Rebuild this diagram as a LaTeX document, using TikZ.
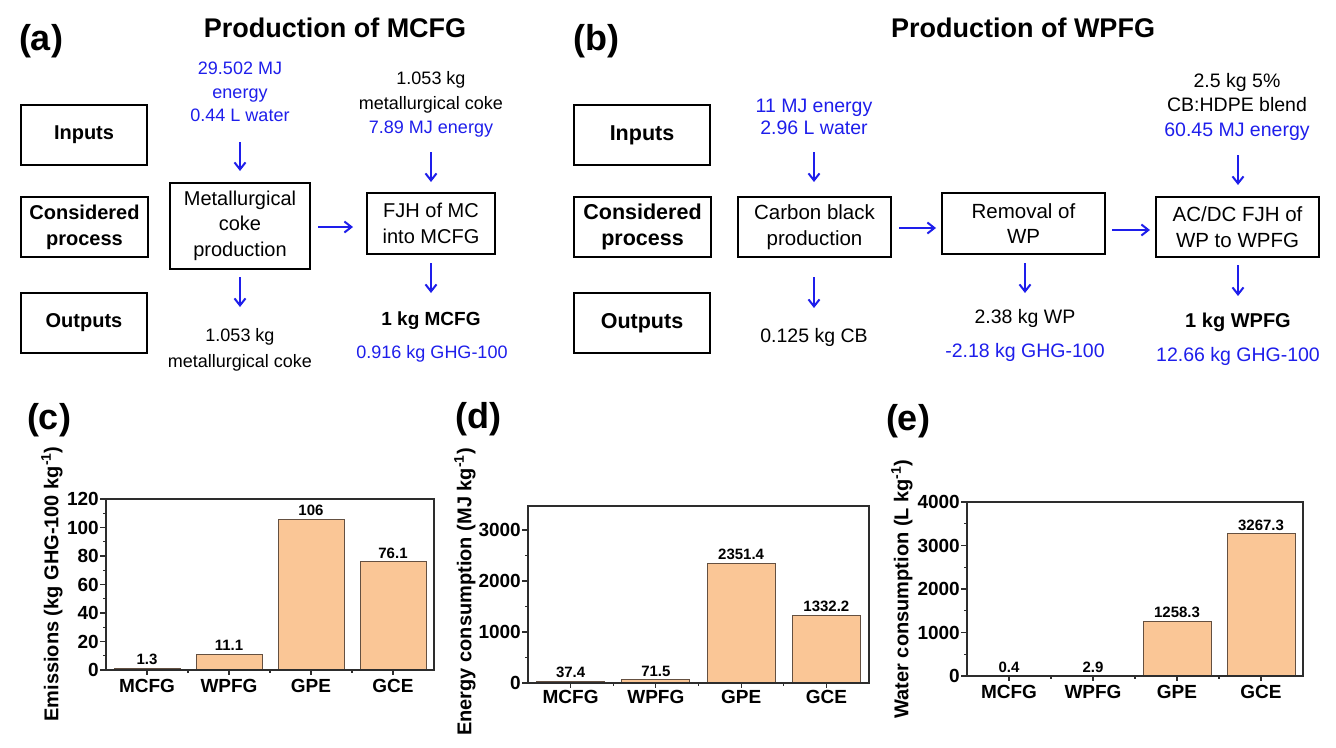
\documentclass[tikz,border=0pt]{standalone}
\usepackage{fontspec}
\setmainfont{Liberation Sans}
\usetikzlibrary{arrows.meta}
\definecolor{fblue}{RGB}{30,30,235}
\definecolor{barfill}{RGB}{250,198,150}
\definecolor{baredge}{RGB}{100,80,65}
\definecolor{axcol}{RGB}{45,45,45}
\begin{document}
\begin{tikzpicture}[x=1pt,y=-1pt,
  box/.style={draw, line width=2pt, align=center, inner sep=0pt},
  hdr/.style={font=\fontsize{20}{26}\selectfont\bfseries},
  hdrb/.style={font=\fontsize{21.5}{26}\selectfont\bfseries},
  ptxt/.style={font=\fontsize{20}{25.5}\selectfont},
  ptxtb/.style={font=\fontsize{20.5}{25.5}\selectfont},
  vtxt/.style={font=\fontsize{18}{24.5}\selectfont, align=center, inner sep=0pt, anchor=base},
  vtxtb/.style={font=\fontsize{19.5}{24.5}\selectfont, align=center, inner sep=0pt, anchor=base},
  plab/.style={font=\fontsize{36}{40}\selectfont\bfseries, inner sep=0pt, anchor=base},
  ttl/.style={font=\fontsize{27}{30}\selectfont\bfseries, inner sep=0pt, anchor=base},
  arr/.style={draw=fblue, line width=2pt, -{Straight Barb[length=7pt,width=11pt,line width=2pt]}},
  bar/.style={fill=barfill, draw=baredge, line width=0.9pt},
  frame/.style={draw=axcol, line width=1.3pt},
  tk/.style={draw=axcol, line width=1.1pt},
  tl/.style={font=\fontsize{19}{22}\selectfont\bfseries, inner sep=0pt, anchor=east},
  xl/.style={font=\fontsize{19}{22}\selectfont\bfseries, inner sep=0pt, anchor=north},
  val/.style={font=\fontsize{15}{18}\selectfont\bfseries, inner sep=0pt, anchor=south},
  yl/.style={font=\fontsize{20}{24}\selectfont\bfseries, inner sep=0pt, rotate=90}
]
\useasboundingbox (0,0) rectangle (1336,747);
\fill[white] (0,0) rectangle (1336,747);

% ================= (a) =================
\node[plab] (la) at (41,50) {(a)};
\node[ttl] (ta) at (335,37.5) {Production of MCFG};

\node[box, hdr, minimum width=126pt, minimum height=60pt] (inA) at (84,135) {Inputs};
\node[box, hdr, minimum width=127pt, minimum height=60pt] (cpA) at (84.5,227) {Considered\\process};
\node[box, hdr, minimum width=126pt, minimum height=60pt] (outA) at (84,323) {Outputs};

\node[vtxt, text=fblue, font=\fontsize{18}{23.5}\selectfont] (ia1) at (240,121.5) {29.502 MJ\\energy\\0.44 L water};
\node[box, ptxt, minimum width=140pt, minimum height=86pt] (mc) at (240,225.5) {Metallurgical\\coke\\production};
\node[vtxt, font=\fontsize{18}{26}\selectfont] (oa1) at (240,367.5) {1.053 kg\\metallurgical coke};

\node[vtxt] (ia2) at (431,133.5) {1.053 kg\\metallurgical coke\\{\color{fblue}7.89 MJ energy}};
\node[box, ptxt, minimum width=128pt, minimum height=61pt] (fjh) at (431,223.5) {FJH of MC\\into MCFG};
\node[vtxt, font=\fontsize{19}{24}\selectfont\bfseries] (oa2) at (431,325.5) {1 kg MCFG};
\node[vtxt, text=fblue] (oa3) at (432,358.5) {0.916 kg GHG-100};

\coordinate (a1s) at (240,142); \coordinate (a1e) at (240,171);
\coordinate (a2s) at (431,152); \coordinate (a2e) at (431,182);
\coordinate (a3s) at (318,227); \coordinate (a3e) at (353,227);
\coordinate (a4s) at (240,277); \coordinate (a4e) at (240,307);
\coordinate (a5s) at (431,263); \coordinate (a5e) at (431,293);
\draw[arr] (a1s) -- (a1e);
\draw[arr] (a2s) -- (a2e);
\draw[arr] (a3s) -- (a3e);
\draw[arr] (a4s) -- (a4e);
\draw[arr] (a5s) -- (a5e);

% ================= (b) =================
\node[plab] (lb) at (596,50) {(b)};
\node[ttl] (tb) at (1023,37.5) {Production of WPFG};

\node[box, hdrb, minimum width=136pt, minimum height=60pt] (inB) at (642,135) {Inputs};
\node[box, hdrb, minimum width=137pt, minimum height=60pt] (cpB) at (642.5,227) {Considered\\process};
\node[box, hdrb, minimum width=136pt, minimum height=60pt] (outB) at (642,323) {Outputs};

\node[vtxtb, text=fblue, font=\fontsize{19.5}{22}\selectfont] (ib1) at (814,134) {11 MJ energy\\2.96 L water};
\node[box, ptxtb, minimum width=153pt, minimum height=60pt] (cb) at (814.5,227) {Carbon black\\production};
\node[vtxtb] (ob1) at (814,342) {0.125 kg CB};

\node[box, ptxtb, minimum width=163pt, minimum height=61pt] (rem) at (1023.5,223.5) {Removal of\\WP};
\node[vtxtb] (ob2) at (1025,323) {2.38 kg WP};
\node[vtxtb, text=fblue] (ob3) at (1025,357) {-2.18 kg GHG-100};

\node[vtxtb] (ib2) at (1237,136) {2.5 kg 5\%\\CB:HDPE blend\\{\color{fblue}60.45 MJ energy}};
\node[box, ptxtb, minimum width=163pt, minimum height=60pt] (acdc) at (1237.5,227) {AC/DC FJH of\\WP to WPFG};
\node[vtxtb, font=\fontsize{20}{24}\selectfont\bfseries] (ob4) at (1238,327) {1 kg WPFG};
\node[vtxtb, text=fblue] (ob5) at (1238,361) {12.66 kg GHG-100};

\coordinate (b1s) at (814,152); \coordinate (b1e) at (814,182);
\coordinate (b2s) at (899,228); \coordinate (b2e) at (936,228);
\coordinate (b3s) at (1112,230); \coordinate (b3e) at (1150,230);
\coordinate (b4s) at (1238,155); \coordinate (b4e) at (1238,185);
\coordinate (b5s) at (814,277); \coordinate (b5e) at (814,308);
\coordinate (b6s) at (1025,263); \coordinate (b6e) at (1025,293);
\coordinate (b7s) at (1238,265); \coordinate (b7e) at (1238,296);
\draw[arr] (b1s) -- (b1e);
\draw[arr] (b2s) -- (b2e);
\draw[arr] (b3s) -- (b3e);
\draw[arr] (b4s) -- (b4e);
\draw[arr] (b5s) -- (b5e);
\draw[arr] (b6s) -- (b6e);
\draw[arr] (b7s) -- (b7e);

% ================= (c) =================
\node[plab] (lc) at (49,429) {(c)};
\node[yl] (ylc) at (52,584) {Emissions (kg GHG-100 kg\textsuperscript{-1})};
\foreach \i/\v in {1/1.3, 2/11.1, 3/106, 4/76.1} {
  \pgfmathsetmacro{\xc}{106+(\i-0.5)*82}
  \pgfmathsetmacro{\yt}{670-\v*1.425}
  \draw[bar] (\xc-33,670) rectangle (\xc+33,\yt);
  \node[val] (cv\i) at (\xc,\yt-3) {\v};
}
\foreach \i/\n in {1/MCFG,2/WPFG,3/GPE,4/GCE} {
  \node[xl] (cx\i) at ({106+(\i-0.5)*82},679) {\n};
  \draw[tk] ({106+(\i-0.5)*82},670) -- ++(0,5);
}
\foreach \i in {1,2,3} \draw[tk] ({106+\i*82},670) -- ++(0,3);
\foreach \v in {0,20,...,120} {
  \draw[tk] (106,{670-\v*1.425}) -- ++(-6,0);
  \node[tl] (cy\v) at (99,{670-\v*1.425}) {\v};
}
\foreach \v in {10,30,...,110} \draw[tk] (106,{670-\v*1.425}) -- ++(-3.5,0);
\draw[frame] (106,499) rectangle (434,670);

% ================= (d) =================
\node[plab] (ld) at (478,428) {(d)};
\node[yl] (yld) at (465,592) {Energy consumption (MJ kg\textsuperscript{-1})};
\foreach \i/\v in {1/37.4, 2/71.5, 3/2351.4, 4/1332.2} {
  \pgfmathsetmacro{\xc}{528+(\i-0.5)*85.25}
  \pgfmathsetmacro{\yt}{683-\v*0.051}
  \draw[bar] (\xc-34,683) rectangle (\xc+34,\yt);
  \node[val] (dv\i) at (\xc,\yt-3) {\v};
}
\foreach \i/\n in {1/MCFG,2/WPFG,3/GPE,4/GCE} {
  \node[xl] (dx\i) at ({528+(\i-0.5)*85.25},690) {\n};
  \draw[tk] ({528+(\i-0.5)*85.25},683) -- ++(0,5);
}
\foreach \i in {1,2,3} \draw[tk] ({528+\i*85.25},683) -- ++(0,3);
\foreach \v in {0,1000,2000,3000} {
  \draw[tk] (528,{683-\v*0.051}) -- ++(-6,0);
  \node[tl] (dy\v) at (521,{683-\v*0.051}) {\v};
}
\foreach \v in {500,1500,2500} \draw[tk] (528,{683-\v*0.051}) -- ++(-3.5,0);
\draw[frame] (528,506) rectangle (869,683);

% ================= (e) =================
\node[plab] (le) at (908,430) {(e)};
\node[yl] (yle) at (902,589) {Water consumption (L kg\textsuperscript{-1})};
\foreach \i/\v in {1/0.4, 2/2.9, 3/1258.3, 4/3267.3} {
  \pgfmathsetmacro{\xc}{967+(\i-0.5)*84}
  \pgfmathsetmacro{\yt}{676-\v*0.0435}
  \draw[bar] (\xc-34,676) rectangle (\xc+34,\yt);
  \node[val] (ev\i) at (\xc,\yt-3) {\v};
}
\foreach \i/\n in {1/MCFG,2/WPFG,3/GPE,4/GCE} {
  \node[xl] (ex\i) at ({967+(\i-0.5)*84},685) {\n};
  \draw[tk] ({967+(\i-0.5)*84},676) -- ++(0,5);
}
\foreach \i in {1,2,3} \draw[tk] ({967+\i*84},676) -- ++(0,3);
\foreach \v in {0,1000,2000,3000,4000} {
  \draw[tk] (967,{676-\v*0.0435}) -- ++(-6,0);
  \node[tl] (ey\v) at (960,{676-\v*0.0435}) {\v};
}
\foreach \v in {500,1500,2500,3500} \draw[tk] (967,{676-\v*0.0435}) -- ++(-3.5,0);
\draw[frame] (967,502) rectangle (1303,676);
\end{tikzpicture}
\end{document}
